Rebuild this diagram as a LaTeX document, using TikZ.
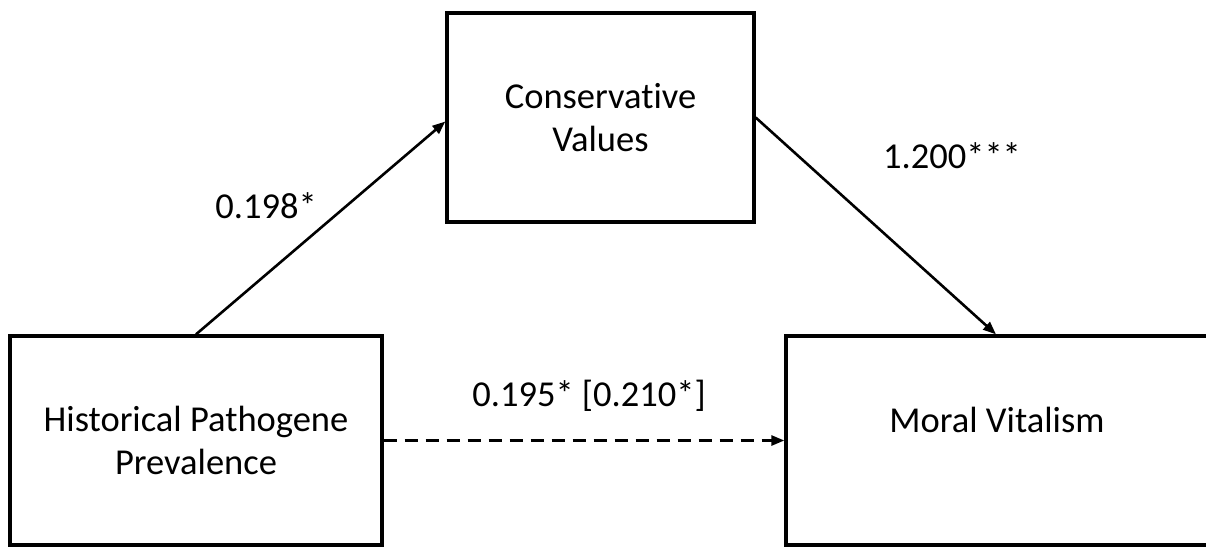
\documentclass[tikz,border=0pt]{standalone}
\usepackage{fontspec}
\setmainfont[Ligatures=NoCommon]{Carlito}
\usetikzlibrary{arrows.meta}
\begin{document}
\begin{tikzpicture}[x=1pt,y=-1pt,
  every node/.style={font=\fontsize{36.5}{43}\selectfont},
  varbox/.style={draw, line width=3.3pt, rectangle, inner sep=0pt, align=center},
  pathline/.style={line width=2.6pt, -{Triangle[length=13pt,width=10pt]}},
  coef/.style={anchor=base}]
\useasboundingbox (0,0) rectangle (1206,547);
\node[varbox, minimum width=372pt, minimum height=209pt] (hpp) at (196,440.5) {Historical Pathogene\\Prevalence};
\node[varbox, minimum width=307pt, minimum height=209pt] (cv) at (600.5,117.5) {Conservative\\Values};
\node[varbox, minimum width=428pt, minimum height=209pt] (mv) at (1000,440.5) {};
\node[anchor=base] (mvtext) at (997,432) {Moral Vitalism};
\draw[pathline] (hpp.north) -- ([yshift=-4pt]cv.west);
\draw[pathline] (cv.east) -- ([xshift=-4pt]mv.north);
\draw[pathline, dash pattern=on 13pt off 8pt] (hpp.east) -- (mv.west);
\node[coef] (l1) at (266,218) {0.198*};
\node[coef] (l2) at (952,168) {1.200***};
\node[coef] (l3) at (589,406) {0.195* [0.210*]};
\end{tikzpicture}
\end{document}
